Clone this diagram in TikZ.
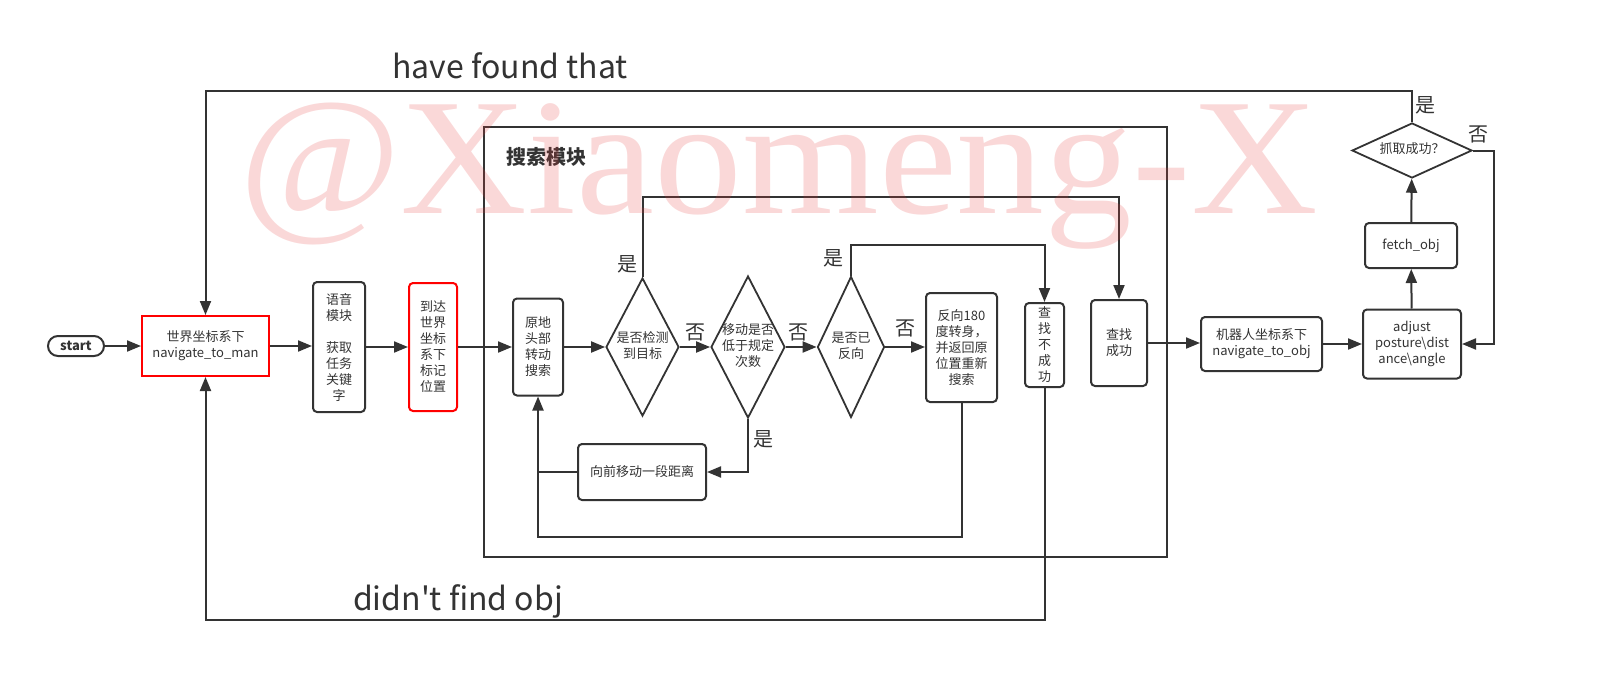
\documentclass[tikz,border=0pt]{standalone}
\usepackage{fontspec}
\setmainfont{Noto Sans CJK SC}
\newfontfamily\wmfont{Liberation Serif}
\usetikzlibrary{arrows.meta,shapes.geometric}
\definecolor{ink}{RGB}{51,51,51}
\definecolor{wmark}{RGB}{228,60,60}
\newcommand{\dtext}[1]{\makebox[0pt]{\begin{tabular}{@{}c@{}}#1\end{tabular}}}
\begin{document}
\begin{tikzpicture}[x=1pt,y=-1pt,
  every node/.style={text=ink,font=\fontsize{13}{16}\selectfont},
  box/.style={draw=ink,line width=2pt,rounded corners=4pt,align=center,inner sep=0pt},
  dec/.style={draw=ink,line width=1.8pt,diamond,inner sep=0pt},
  yn/.style={font=\fontsize{20}{20}\selectfont,inner sep=0pt},
  big/.style={font=\fontsize{32}{32}\selectfont,inner sep=0pt},
  arr/.style={draw=ink,line width=2pt,-{Triangle[length=14pt,width=11pt]}},
  wire/.style={draw=ink,line width=2pt}]
\useasboundingbox (0,0) rectangle (1620,683);
\node[draw=ink,line width=2pt,minimum width=683pt,minimum height=430pt,inner sep=0pt] (search) at (825.5,342) {};
\node[font=\fontsize{20}{20}\selectfont\bfseries,inner sep=0pt] (title) at (546,157) {搜索模块};
\node[box,minimum width=56pt,minimum height=20pt,rounded corners=10pt,font=\fontsize{13}{16}\selectfont\bfseries] (start) at (76,346) {start};
\node[box,draw=red,sharp corners,minimum width=127pt,minimum height=60pt] (world) at (205.5,346) {世界坐标系下\\navigate\_to\_man};
\node[box,minimum width=52pt,minimum height=130pt] (voice) at (339,347) {语音\\模块\\[16pt]获取\\任务\\关键\\字};
\node[box,draw=red,minimum width=48pt,minimum height=128pt] (mark) at (433,347) {到达\\世界\\坐标\\系下\\标记\\位置};
\node[box,minimum width=50pt,minimum height=97pt] (spin) at (538,347) {原地\\头部\\转动\\搜索};
\node[dec,minimum width=73pt,minimum height=138pt] (det) at (642.5,347) {\dtext{是否检测\\到目标}};
\node[dec,minimum width=74pt,minimum height=142pt] (cnt) at (748,347) {\dtext{移动是否\\低于规定\\次数}};
\node[dec,minimum width=67pt,minimum height=141pt] (rev) at (851,347) {\dtext{是否已\\反向}};
\node[box,minimum width=71pt,minimum height=109pt] (turn) at (961.5,347.5) {反向180\\度转身，\\并返回原\\位置重新\\搜索};
\node[box,minimum width=39pt,minimum height=84pt] (fail) at (1044.5,345) {查\\找\\不\\成\\功};
\node[box,minimum width=56pt,minimum height=86pt] (succ) at (1119,343) {查找\\成功};
\node[box,minimum width=121pt,minimum height=54pt] (nav) at (1261.5,344) {机器人坐标系下\\navigate\_to\_obj};
\node[box,minimum width=98pt,minimum height=69pt] (adj) at (1412,344) {adjust\\posture\textbackslash dist\\ance\textbackslash angle};
\node[box,minimum width=92pt,minimum height=45pt] (fetch) at (1411,245.5) {fetch\_obj};
\node[dec,minimum width=120pt,minimum height=55pt] (grab) at (1412,150.5) {\dtext{抓取成功？}};
\node[box,minimum width=128pt,minimum height=56pt] (fwd) at (642,472) {向前移动一段距离};
\draw[arr] (start) -- (world);
\draw[arr] (world) -- (world -| voice.west);
\draw[arr] (voice) -- (voice -| mark.west);
\draw[arr] (mark) -- (mark -| spin.west);
\draw[arr] (spin) -- (det);
\draw[arr] (det) -- (cnt);
\draw[arr] (cnt) -- (rev);
\draw[arr] (rev) -- (rev -| turn.west);
\draw[arr] (succ.east) -- (succ.east -| nav.west);
\draw[arr] (nav) -- (adj);
\draw[arr] (adj) -- (fetch);
\draw[arr] (fetch) -- (grab);
\draw[arr] (det.north) -- (det.north |- 0,197) -| (succ.north);
\draw[arr] (rev.north) -- (rev.north |- 0,245) -| (fail.north);
\draw[arr] (cnt.south) |- (fwd.east);
\draw[wire] (fwd.west) -- (fwd.west -| spin.south);
\draw[arr] (turn.south) -- (turn.south |- 0,537) -| (spin.south);
\draw[arr] (fail.south) -- (fail.south |- 0,620) -| (world.south);
\draw[arr] (grab.north) -- (grab.north |- 0,91) -| (world.north);
\draw[arr] (grab.east) -- ++(21,0) |- (adj.east);
\node[yn] (no1) at (695,332) {否};
\node[yn] (no2) at (798,332) {否};
\node[yn] (no3) at (905,328) {否};
\node[yn] (no4) at (1478,134) {否};
\node[yn] (yes1) at (627,264) {是};
\node[yn] (yes2) at (833,258) {是};
\node[yn] (yes3) at (763,439) {是};
\node[yn] (yes4) at (1425,105) {是};
\node[big] (found) at (510,66) {have found that};
\node[big] (lost) at (458,601) {didn\textquotesingle t find obj};
\node[text=wmark,text opacity=0.2,font=\fontsize{166}{166}\selectfont\wmfont,anchor=base west,inner sep=0pt] (wm) at (239,213) {\scalebox{1.058}[1]{@Xiaomeng-X}};
\end{tikzpicture}
\end{document}
